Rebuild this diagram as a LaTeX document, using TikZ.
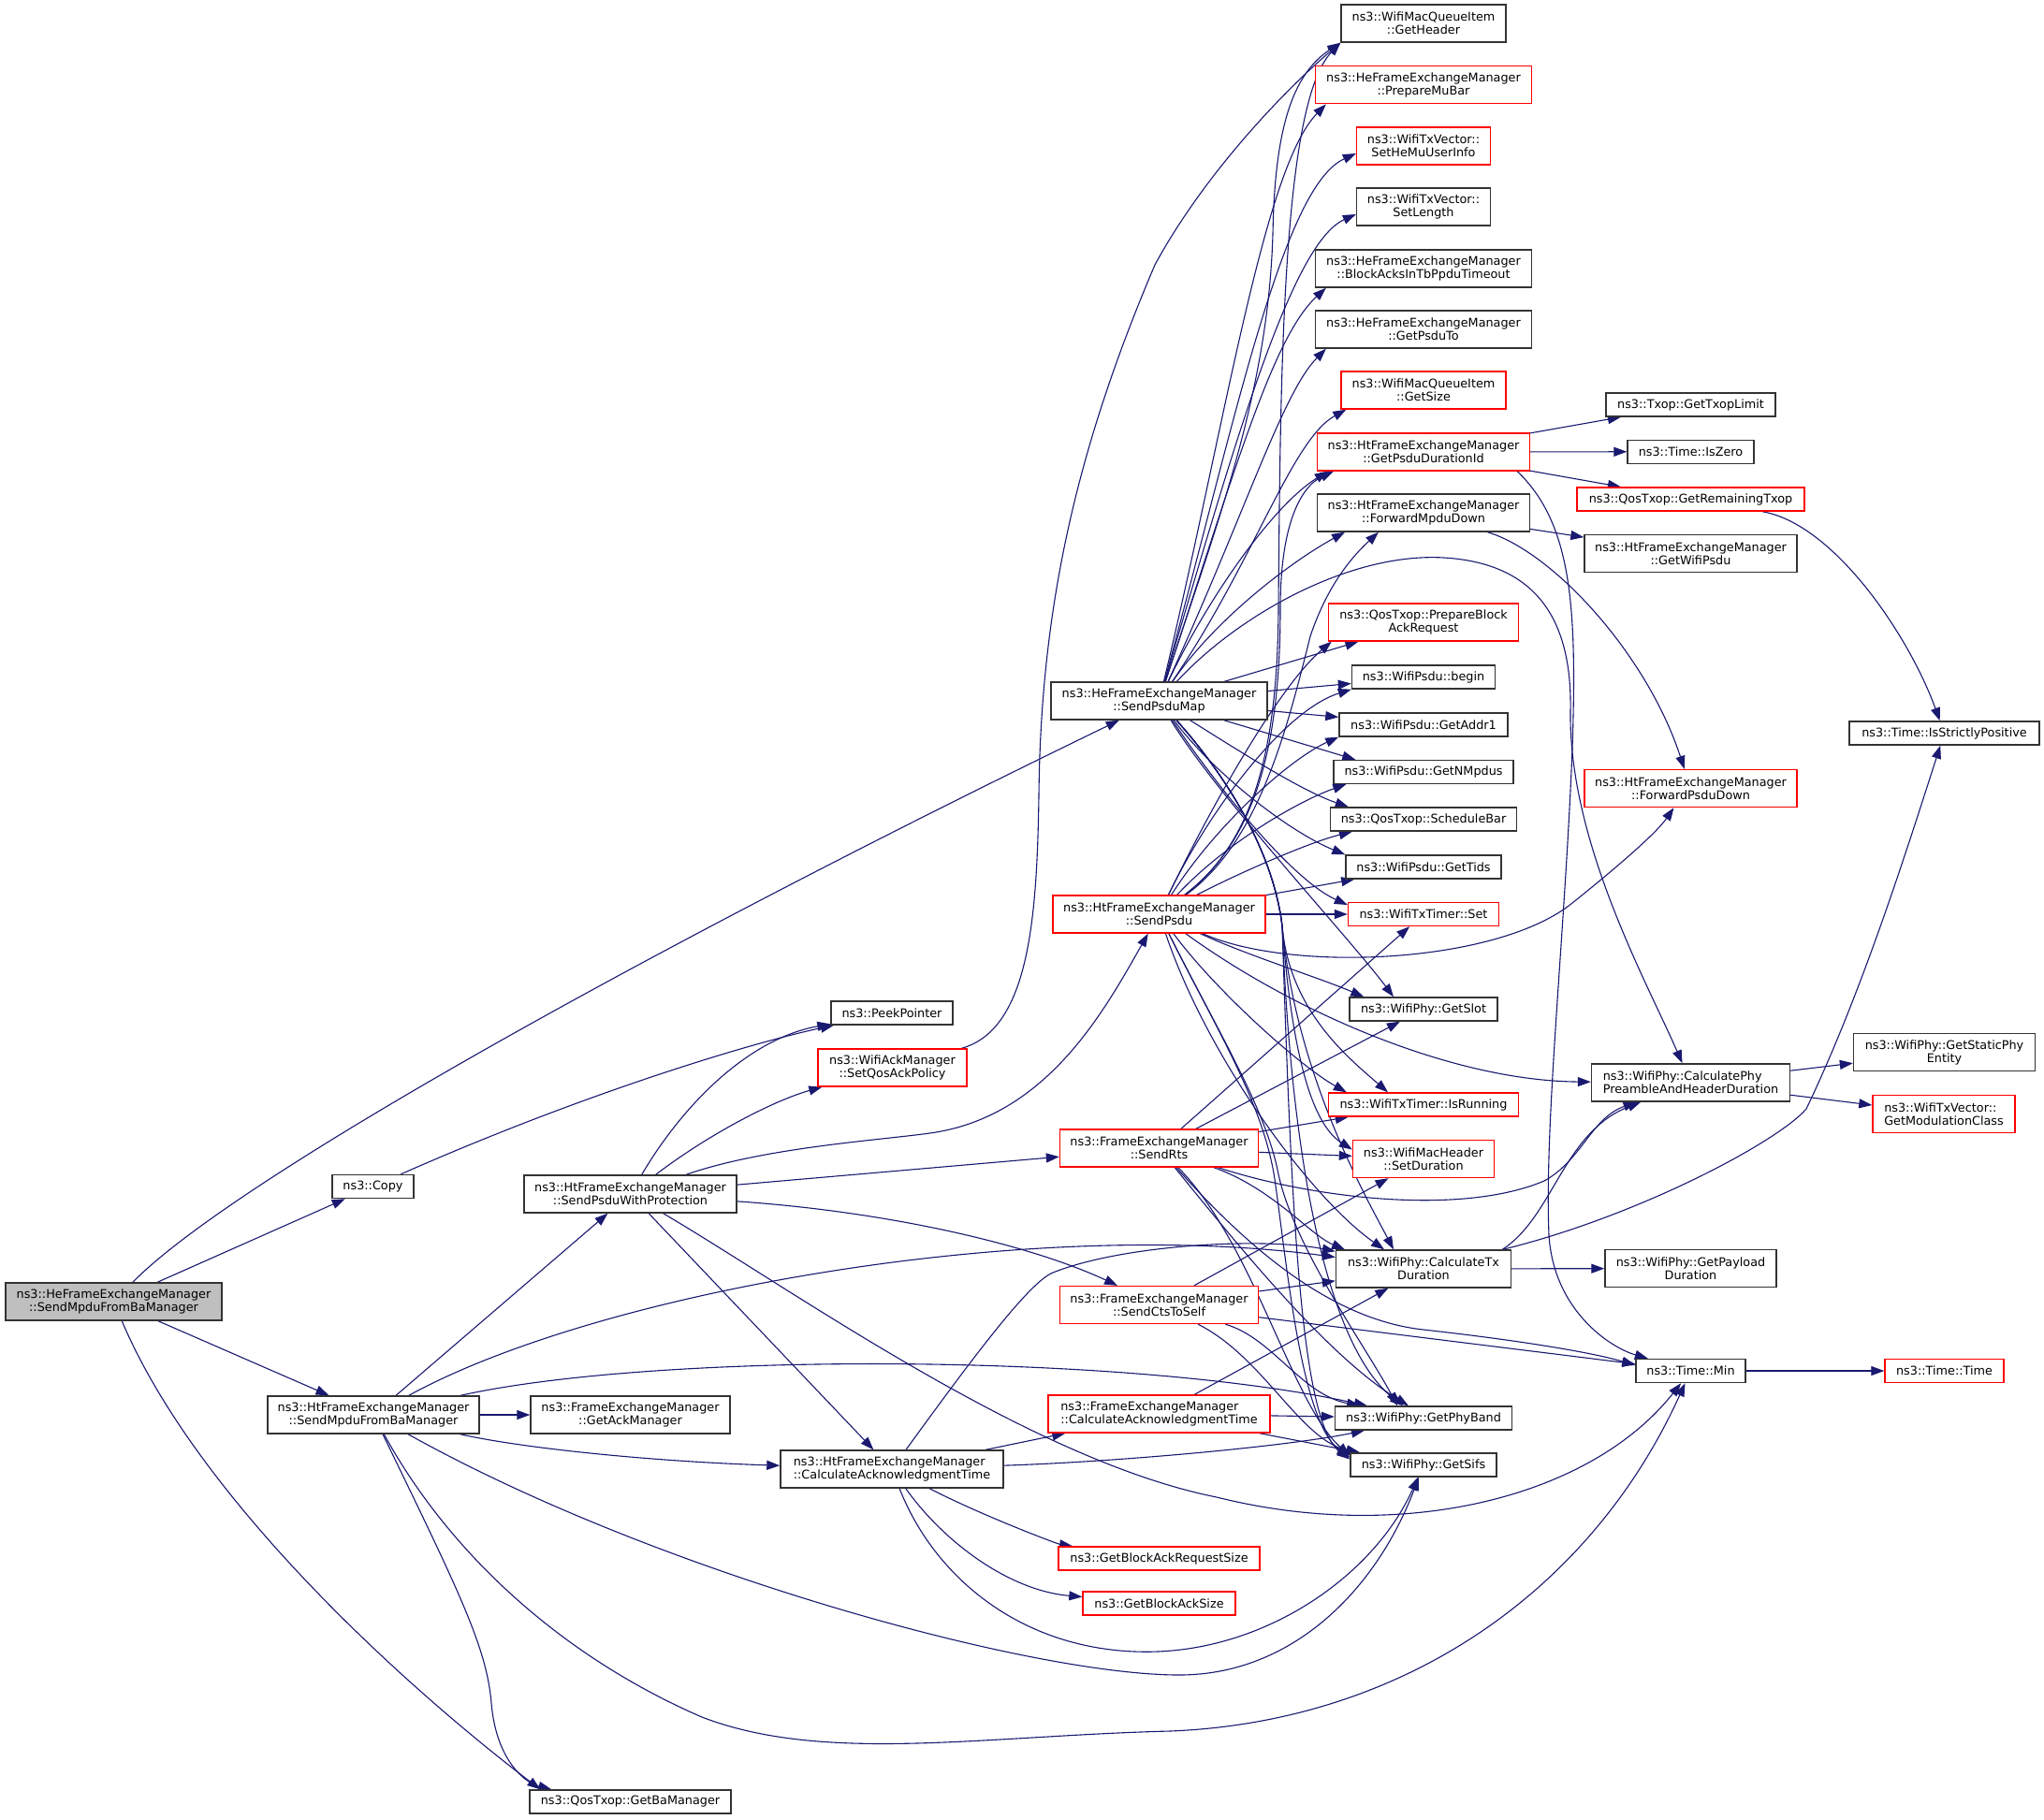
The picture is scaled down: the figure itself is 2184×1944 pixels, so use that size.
\documentclass[tikz,border=0pt]{standalone}
\usepackage{fontspec}
\setmainfont{DejaVu Sans}
\usepackage{tikz}
\usetikzlibrary{arrows.meta,backgrounds}

\definecolor{edgeblue}{HTML}{191970}
\definecolor{rootgray}{HTML}{BFBFBF}
\newcommand{\fnsize}{\fontsize{6.4}{7}\selectfont}

\tikzset{
  fn/.style={draw=black!80, fill=white, line width=0.7pt, inner sep=0pt,
    align=center, font=\fnsize, minimum height=20pt},
  fnone/.style={fn, minimum height=12.5pt},
  fnred/.style={draw=red},
  call/.style={draw=edgeblue, line width=0.55pt, -{Triangle[length=7pt,width=5pt]}},
}

\begin{document}
\begin{tikzpicture}[x=0.5pt,y=-0.5pt]
  \useasboundingbox (0,0) rectangle (2184,1944);

  % Caller and first callees
  \node[fn, fill=rootgray, minimum width=115.5pt] (hesmfbm) at (121.5,1391) {ns3::HeFrameExchangeManager\\::SendMpduFromBaManager};
  \node[fnone, minimum width=43.5pt] (copy) at (398.5,1268) {ns3::Copy};
  \node[fn, minimum width=113pt] (htsmfbm) at (399,1512) {ns3::HtFrameExchangeManager\\::SendMpduFromBaManager};
  \node[fn, minimum width=113.5pt] (spwp) at (673.5,1276) {ns3::HtFrameExchangeManager\\::SendPsduWithProtection};
  \node[fn, minimum width=106.5pt] (getackmgr) at (673.5,1512) {ns3::FrameExchangeManager\\::GetAckManager};
  \node[fnone, minimum width=107.5pt] (getbamgr) at (673.5,1925.5) {ns3::QosTxop::GetBaManager};
  \node[fnone, minimum width=65pt] (peekptr) at (953,1082.5) {ns3::PeekPointer};
  \node[fn, fnred, minimum width=79.5pt] (setqos) at (953.5,1141) {ns3::WifiAckManager\\::SetQosAckPolicy};
  \node[fn, align=left, minimum width=119pt] (htcalcack) at (953,1570) {ns3::HtFrameExchangeManager\\::CalculateAcknowledgmentTime};

  % Middle column
  \node[fn, minimum width=115.5pt] (sendpsdumap) at (1238.5,749) {ns3::HeFrameExchangeManager\\::SendPsduMap};
  \node[fn, fnred, minimum width=113.5pt] (sendpsdu) at (1238.5,977) {ns3::HtFrameExchangeManager\\::SendPsdu};
  \node[fn, fnred, minimum width=106pt] (sendrts) at (1238.5,1227) {ns3::FrameExchangeManager\\::SendRts};
  \node[fn, fnred, minimum width=106pt] (sendcts) at (1238.5,1394.5) {ns3::FrameExchangeManager\\::SendCtsToSelf};
  \node[fn, fnred, align=left, minimum width=118.5pt] (femcalcack) at (1238.5,1511) {ns3::FrameExchangeManager\\::CalculateAcknowledgmentTime};
  \node[fnone, fnred, minimum width=107.5pt] (getbarsize) at (1238.5,1665.5) {ns3::GetBlockAckRequestSize};
  \node[fnone, fnred, minimum width=81.5pt] (getbasize) at (1238.5,1713.5) {ns3::GetBlockAckSize};

  % Leaf column
  \node[fn, minimum width=88pt] (getheader) at (1521,25) {ns3::WifiMacQueueItem\\::GetHeader};
  \node[fn, fnred, minimum width=115.5pt] (preparemubar) at (1521,90.7) {ns3::HeFrameExchangeManager\\::PrepareMuBar};
  \node[fn, fnred, minimum width=71.5pt] (sethemu) at (1521,156) {ns3::WifiTxVector::\\SetHeMuUserInfo};
  \node[fn, minimum width=71.5pt] (setlength) at (1521,221) {ns3::WifiTxVector::\\SetLength};
  \node[fn, minimum width=115.5pt] (blockacks) at (1521,287) {ns3::HeFrameExchangeManager\\::BlockAcksInTbPpduTimeout};
  \node[fn, minimum width=115.5pt] (getpsduto) at (1521,352) {ns3::HeFrameExchangeManager\\::GetPsduTo};
  \node[fn, fnred, minimum width=88pt] (getsize) at (1521,417) {ns3::WifiMacQueueItem\\::GetSize};
  \node[fn, fnred, minimum width=113.5pt] (getpsdudur) at (1521,483) {ns3::HtFrameExchangeManager\\::GetPsduDurationId};
  \node[fn, minimum width=113.5pt] (fwdmpdu) at (1521,548) {ns3::HtFrameExchangeManager\\::ForwardMpduDown};
  \node[fn, fnred, minimum width=101.5pt] (prepbar) at (1521,665) {ns3::QosTxop::PrepareBlock\\AckRequest};
  \node[fnone, minimum width=76.5pt] (psdubegin) at (1521,723.5) {ns3::WifiPsdu::begin};
  \node[fnone, minimum width=90pt] (getaddr1) at (1521,774.5) {ns3::WifiPsdu::GetAddr1};
  \node[fnone, minimum width=96pt] (getnmpdus) at (1521,825) {ns3::WifiPsdu::GetNMpdus};
  \node[fnone, minimum width=99.5pt] (schedbar) at (1521,875.5) {ns3::QosTxop::ScheduleBar};
  \node[fnone, minimum width=83pt] (gettids) at (1521,926.5) {ns3::WifiPsdu::GetTids};
  \node[fnone, fnred, minimum width=80.5pt] (txtimerset) at (1521,977) {ns3::WifiTxTimer::Set};
  \node[fnone, minimum width=79pt] (getslot) at (1521,1078.5) {ns3::WifiPhy::GetSlot};
  \node[fnone, fnred, minimum width=101.5pt] (isrunning) at (1521,1180.5) {ns3::WifiTxTimer::IsRunning};
  \node[fn, fnred, minimum width=75.5pt] (setduration) at (1521,1238.5) {ns3::WifiMacHeader\\::SetDuration};
  \node[fn, minimum width=93.5pt] (calctxdur) at (1521,1356) {ns3::WifiPhy::CalculateTx\\Duration};
  \node[fnone, minimum width=94.5pt] (getphyband) at (1521,1515.5) {ns3::WifiPhy::GetPhyBand};
  \node[fnone, minimum width=78pt] (getsifs) at (1521,1565.5) {ns3::WifiPhy::GetSifs};

  \node[fnone, minimum width=90.5pt] (gettxoplimit) at (1806.5,432.5) {ns3::Txop::GetTxopLimit};
  \node[fnone, minimum width=67.5pt] (iszero) at (1806.5,482.7) {ns3::Time::IsZero};
  \node[fnone, fnred, minimum width=121.5pt] (getremtxop) at (1806.5,533.5) {ns3::QosTxop::GetRemainingTxop};
  \node[fn, minimum width=113.5pt] (getwifipsdu) at (1806.5,591.5) {ns3::HtFrameExchangeManager\\::GetWifiPsdu};
  \node[fn, fnred, minimum width=113.5pt] (fwdpsdu) at (1806.5,842.5) {ns3::HtFrameExchangeManager\\::ForwardPsduDown};
  \node[fn, align=left, minimum width=106pt] (calcphypre) at (1806.5,1157) {ns3::WifiPhy::CalculatePhy\\PreambleAndHeaderDuration};
  \node[fn, minimum width=91.5pt] (getpayload) at (1806.5,1355.5) {ns3::WifiPhy::GetPayload\\Duration};
  \node[fnone, minimum width=58.5pt] (timemin) at (1806.5,1465) {ns3::Time::Min};

  \node[fnone, minimum width=101.5pt] (isstrict) at (2077.5,783.5) {ns3::Time::IsStrictlyPositive};
  \node[fn, minimum width=97pt] (getstaticphy) at (2077.5,1124.5) {ns3::WifiPhy::GetStaticPhy\\Entity};
  \node[fn, fnred, align=left, minimum width=76pt] (getmodclass) at (2077,1190.5) {ns3::WifiTxVector::\\GetModulationClass};
  \node[fnone, fnred, minimum width=63.5pt] (timetime) at (2077.5,1465) {ns3::Time::Time};

  \begin{scope}[on background layer]
  % Calls of the caller
  \draw[call] (hesmfbm) .. controls (250,1260) and (700,1010) .. (sendpsdumap);
  \draw[call] (hesmfbm) -- (copy);
  \draw[call] (hesmfbm) -- (htsmfbm);
  \draw[call] (hesmfbm) .. controls (210,1600) and (430,1800) .. ([xshift=6pt]getbamgr.north west);
  \draw[call] (copy) .. controls (620,1170) and (800,1115) .. (peekptr);

  % HtFrameExchangeManager::SendMpduFromBaManager
  \draw[call] (htsmfbm) -- (spwp);
  \draw[call] (htsmfbm) -- (getackmgr);
  \draw[call] (htsmfbm) .. controls (560,1548) and (700,1562) .. (htcalcack);
  \draw[call] (htsmfbm) .. controls (640,1380) and (1100,1300) .. (calctxdur);
  \draw[call] (htsmfbm) .. controls (700,1445) and (1200,1445) .. (getphyband);
  \draw[call] (htsmfbm) .. controls (700,1680) and (1100,1790) .. (1260,1790)
      .. controls (1380,1790) and (1470,1700) .. (getsifs);
  \draw[call] (htsmfbm) .. controls (490,1700) and (520,1760) .. (525,1820)
      .. controls (530,1880) and (560,1905) .. ([xshift=12pt]getbamgr.north west);
  \draw[call] (htsmfbm) .. controls (480,1660) and (600,1770) .. (750,1835)
      .. controls (880,1885) and (1050,1855) .. (1250,1850)
      .. controls (1500,1840) and (1700,1700) .. (timemin);

  % SendPsduWithProtection
  \draw[call] (spwp) .. controls (730,1180) and (800,1110) .. (peekptr);
  \draw[call] (spwp) .. controls (760,1210) and (830,1175) .. (setqos);
  \draw[call] (spwp) .. controls (820,1225) and (950,1218) .. (1000,1210)
      .. controls (1120,1190) and (1180,1080) .. (sendpsdu);
  \draw[call] (spwp) -- (sendrts);
  \draw[call] (spwp) .. controls (950,1295) and (1100,1330) .. (sendcts);
  \draw[call] (spwp) -- (htcalcack);
  \draw[call] (spwp) .. controls (850,1380) and (1100,1560) .. (1300,1600)
      .. controls (1500,1650) and (1700,1600) .. (timemin);
  \draw[call] (setqos) .. controls (1100,1100) and (1108,980) .. (1110,850)
      .. controls (1112,650) and (1150,480) .. (1234,283)
      .. controls (1290,180) and (1380,90) .. (getheader.south west);

  % CalculateAcknowledgmentTime
  \draw[call] (htcalcack) -- (femcalcack);
  \draw[call] (htcalcack) .. controls (1040,1450) and (1100,1370) .. (1125,1360)
      .. controls (1200,1330) and (1350,1322) .. (calctxdur);
  \draw[call] (htcalcack) .. controls (1200,1562) and (1380,1545) .. (getphyband);
  \draw[call] (htcalcack) .. controls (1050,1620) and (1130,1650) .. (getbarsize);
  \draw[call] (htcalcack) .. controls (1010,1650) and (1080,1700) .. (getbasize);
  \draw[call] (htcalcack) .. controls (1000,1690) and (1100,1770) .. (1237,1765)
      .. controls (1360,1760) and (1470,1680) .. (getsifs);
  \draw[call] (femcalcack) -- (calctxdur);
  \draw[call] (femcalcack) -- (getphyband);
  \draw[call] (femcalcack) -- (getsifs);

  % SendCtsToSelf and SendRts
  \draw[call] (sendcts) -- (setduration);
  \draw[call] (sendcts) -- (calctxdur);
  \draw[call] (sendcts) -- (timemin);
  \draw[call] (sendcts) .. controls (1360,1430) and (1390,1490) .. (getphyband);
  \draw[call] (sendcts) .. controls (1350,1450) and (1390,1540) .. (getsifs);
  \draw[call] (sendrts) -- (txtimerset);
  \draw[call] (sendrts) -- (getslot);
  \draw[call] (sendrts) -- (isrunning);
  \draw[call] (sendrts) -- (setduration);
  \draw[call] (sendrts) .. controls (1400,1280) and (1560,1300) .. (1650,1262)
      .. controls (1690,1240) and (1700,1195) .. (calcphypre);
  \draw[call] (sendrts) .. controls (1360,1270) and (1400,1320) .. ([xshift=-42pt]calctxdur.north);
  \draw[call] (sendrts) .. controls (1330,1330) and (1420,1410) .. (1521,1421)
      .. controls (1620,1432) and (1700,1445) .. ([yshift=3pt]timemin.west);
  \draw[call] (sendrts) .. controls (1330,1340) and (1420,1450) .. ([xshift=-8pt]getphyband.north);
  \draw[call] (sendrts) .. controls (1340,1330) and (1380,1500) .. ([yshift=5pt]getsifs.west);

  % SendPsduMap
  \draw[call] (sendpsdumap) .. controls (1300,560) and (1355,420) .. (1360,250)
      .. controls (1362,140) and (1380,80) .. (getheader.south west);
  \draw[call] (sendpsdumap) .. controls (1310,450) and (1350,180) .. ([xshift=6pt]preparemubar.south west);
  \draw[call] (sendpsdumap) .. controls (1320,450) and (1370,200) .. ([yshift=-4pt]sethemu.west);
  \draw[call] (sendpsdumap) .. controls (1320,470) and (1380,260) .. ([yshift=-4pt]setlength.west);
  \draw[call] (sendpsdumap) .. controls (1320,500) and (1360,360) .. ([xshift=6pt]blockacks.south west);
  \draw[call] (sendpsdumap) .. controls (1330,550) and (1370,420) .. ([xshift=6pt]getpsduto.south west);
  \draw[call] (sendpsdumap) .. controls (1340,600) and (1380,470) .. ([xshift=3pt]getsize.south west);
  \draw[call] (sendpsdumap) .. controls (1290,640) and (1360,540) .. ([xshift=6pt]getpsdudur.south west);
  \draw[call] (sendpsdumap) .. controls (1300,660) and (1380,600) .. ([xshift=-42pt]fwdmpdu.south);
  \draw[call] (sendpsdumap) -- (prepbar);
  \draw[call] (sendpsdumap) -- (psdubegin);
  \draw[call] (sendpsdumap) -- (getaddr1);
  \draw[call] (sendpsdumap) -- ([xshift=12pt]getnmpdus.north west);
  \draw[call] (sendpsdumap) .. controls (1320,800) and (1390,845) .. ([xshift=10pt]schedbar.north west);
  \draw[call] (sendpsdumap) .. controls (1300,830) and (1380,890) .. (gettids.north west);
  \draw[call] (sendpsdumap) .. controls (1300,840) and (1380,940) .. ([yshift=5pt]txtimerset.west);
  \draw[call] (sendpsdumap) .. controls (1300,850) and (1440,1000) .. ([xshift=-16pt]getslot.north);
  \draw[call] (sendpsdumap) .. controls (1320,840) and (1362,920) .. (1370,990)
      .. controls (1378,1080) and (1440,1130) .. ([xshift=-19pt]isrunning.north);
  \draw[call] (sendpsdumap) .. controls (1320,840) and (1362,920) .. (1370,990)
      .. controls (1380,1120) and (1400,1200) .. ([yshift=5pt]setduration.west);
  \draw[call] (sendpsdumap) .. controls (1320,840) and (1362,920) .. (1370,990)
      .. controls (1385,1150) and (1460,1280) .. ([xshift=-16pt]calctxdur.north);
  \draw[call] (sendpsdumap) .. controls (1320,840) and (1362,920) .. (1370,990)
      .. controls (1380,1250) and (1420,1440) .. ([xshift=-11pt]getphyband.north);
  \draw[call] (sendpsdumap) .. controls (1320,840) and (1362,920) .. (1370,990)
      .. controls (1380,1300) and (1390,1520) .. ([yshift=3pt]getsifs.west);
  \draw[call] (sendpsdumap) .. controls (1320,660) and (1440,590) .. (1543,596)
      .. controls (1640,602) and (1680,660) .. (1678,760)
      .. controls (1676,900) and (1760,1050) .. (calcphypre);

  % SendPsdu
  \draw[call] (sendpsdu) .. controls (1340,900) and (1365,800) .. (1366,650)
      .. controls (1368,400) and (1370,110) .. (getheader.south west);
  \draw[call] (sendpsdu) .. controls (1340,900) and (1368,800) .. (1368,650)
      .. controls (1368,560) and (1390,520) .. ([xshift=9pt]getpsdudur.south west);
  \draw[call] (sendpsdu) .. controls (1345,900) and (1375,780) .. (1400,680)
      .. controls (1420,620) and (1450,590) .. ([xshift=-24pt]fwdmpdu.south);
  \draw[call] (sendpsdu) .. controls (1300,850) and (1370,730) .. ([xshift=2pt]prepbar.south west);
  \draw[call] (sendpsdu) .. controls (1290,870) and (1370,760) .. (psdubegin.south west);
  \draw[call] (sendpsdu) .. controls (1300,880) and (1380,810) .. (getaddr1.south west);
  \draw[call] (sendpsdu) .. controls (1310,900) and (1390,855) .. ([xshift=7pt]getnmpdus.south west);
  \draw[call] (sendpsdu) .. controls (1330,930) and (1400,900) .. ([xshift=12pt]schedbar.south west);
  \draw[call] (sendpsdu) -- (gettids);
  \draw[call] (sendpsdu) -- (txtimerset);
  \draw[call] (sendpsdu) .. controls (1380,1040) and (1600,1030) .. (1680,965)
      .. controls (1730,925) and (1770,890) .. ([xshift=-9pt]fwdpsdu.south);
  \draw[call] (sendpsdu) .. controls (1330,1020) and (1410,1045) .. ([xshift=8pt]getslot.north west);
  \draw[call] (sendpsdu) .. controls (1300,1060) and (1390,1140) .. ([xshift=10pt]isrunning.north west);
  \draw[call] (sendpsdu) .. controls (1380,1080) and (1550,1155) .. (calcphypre);
  \draw[call] (sendpsdu) .. controls (1290,1130) and (1400,1280) .. ([xshift=-21pt]calctxdur.north);
  \draw[call] (sendpsdu) .. controls (1300,1100) and (1350,1180) .. (1365,1250)
      .. controls (1380,1330) and (1460,1440) .. ([xshift=-14pt]getphyband.north);
  \draw[call] (sendpsdu) .. controls (1300,1100) and (1350,1180) .. (1362,1260)
      .. controls (1375,1350) and (1390,1520) .. ([yshift=4pt]getsifs.west);

  % Right-hand calls
  \draw[call] (getpsdudur) -- (gettxoplimit);
  \draw[call] (getpsdudur) -- (iszero);
  \draw[call] (getpsdudur) -- (getremtxop);
  \draw[call] ([xshift=-7pt]getpsdudur.south east) .. controls (1680,560) and (1685,650) .. (1680,800)
      .. controls (1672,1000) and (1650,1200) .. (1655,1320)
      .. controls (1660,1400) and (1720,1440) .. (timemin);
  \draw[call] (fwdmpdu) -- (getwifipsdu);
  \draw[call] (fwdmpdu) .. controls (1660,590) and (1760,700) .. (fwdpsdu);
  \draw[call] (getremtxop) .. controls (1960,560) and (2040,680) .. (isstrict);
  \draw[call] ([xshift=-5pt]calctxdur.north east) .. controls (1660,1300) and (1670,1210) .. (calcphypre);
  \draw[call] (calctxdur) -- (getpayload);
  \draw[call] (calctxdur) .. controls (1750,1300) and (1900,1220) .. (1930,1185)
      .. controls (1990,1060) and (2040,900) .. (isstrict);
  \draw[call] (calcphypre) -- (getstaticphy);
  \draw[call] (calcphypre) -- (getmodclass);
  \draw[call] (timemin) -- (timetime);
  \end{scope}
\end{tikzpicture}
\end{document}
